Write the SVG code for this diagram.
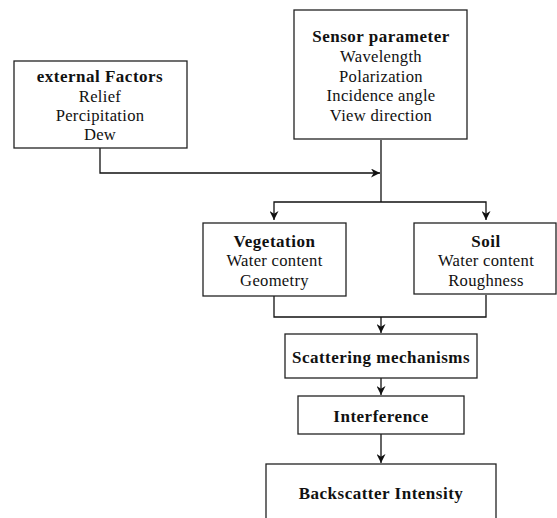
<svg xmlns="http://www.w3.org/2000/svg" width="557" height="518" viewBox="0 0 557 518">
<style>
.box{fill:#fff;stroke:#222;stroke-width:1.3}
text{font-family:"Liberation Serif","Times New Roman",serif;font-size:16.6px;fill:#111;text-anchor:middle;letter-spacing:0.3px}
.b{font-weight:bold;font-size:17px;letter-spacing:0.5px}
.c{fill:none;stroke:#111;stroke-width:1.3}
</style>
<defs>
<marker id="ah" viewBox="0 0 10 10" refX="10" refY="5" markerWidth="9" markerHeight="9" markerUnits="userSpaceOnUse" orient="auto">
<path d="M0,0 L10,5 L0,10 L3,5 Z" fill="#111"/>
</marker>
</defs>
<rect width="557" height="518" fill="#fff"/>
<g id="connectors">
<polyline class="c" points="100,148 100,173 380,173" marker-end="url(#ah)"/>
<line class="c" x1="381" y1="140" x2="381" y2="202"/>
<polyline class="c" points="381,202 274,202 274,220" marker-end="url(#ah)"/>
<polyline class="c" points="381,202 486,202 486,220" marker-end="url(#ah)"/>
<polyline class="c" points="274,296 274,317 486,317 486,295"/>
<line class="c" x1="381" y1="317" x2="381" y2="333" marker-end="url(#ah)"/>
<line class="c" x1="381" y1="378" x2="381" y2="395" marker-end="url(#ah)"/>
<line class="c" x1="381" y1="434" x2="381" y2="463" marker-end="url(#ah)"/>
</g>
<g id="external">
<rect class="box" x="14" y="61" width="173" height="87"/>
<text x="100" y="82" class="b">external Factors</text>
<text x="100" y="102">Relief</text>
<text x="100" y="121">Percipitation</text>
<text x="100" y="140">Dew</text>
</g>
<g id="sensor">
<rect class="box" x="294" y="10" width="173" height="129"/>
<text x="381" y="42" class="b">Sensor parameter</text>
<text x="381" y="62">Wavelength</text>
<text x="381" y="82">Polarization</text>
<text x="381" y="101">Incidence angle</text>
<text x="381" y="121">View direction</text>
</g>
<g id="vegetation">
<rect class="box" x="203" y="223" width="143" height="73"/>
<text x="274.5" y="247" class="b">Vegetation</text>
<text x="274.5" y="266">Water content</text>
<text x="274.5" y="286">Geometry</text>
</g>
<g id="soil">
<rect class="box" x="414" y="223" width="142" height="71"/>
<text x="486" y="247" class="b">Soil</text>
<text x="486" y="266">Water content</text>
<text x="486" y="286">Roughness</text>
</g>
<g id="scattering">
<rect class="box" x="285" y="334" width="192" height="44"/>
<text x="381" y="363" class="b">Scattering mechanisms</text>
</g>
<g id="interference">
<rect class="box" x="298" y="396" width="166" height="38"/>
<text x="381" y="422" class="b">Interference</text>
</g>
<g id="backscatter">
<rect class="box" x="266" y="464" width="230" height="70"/>
<text x="381" y="499" class="b">Backscatter Intensity</text>
</g>
</svg>
